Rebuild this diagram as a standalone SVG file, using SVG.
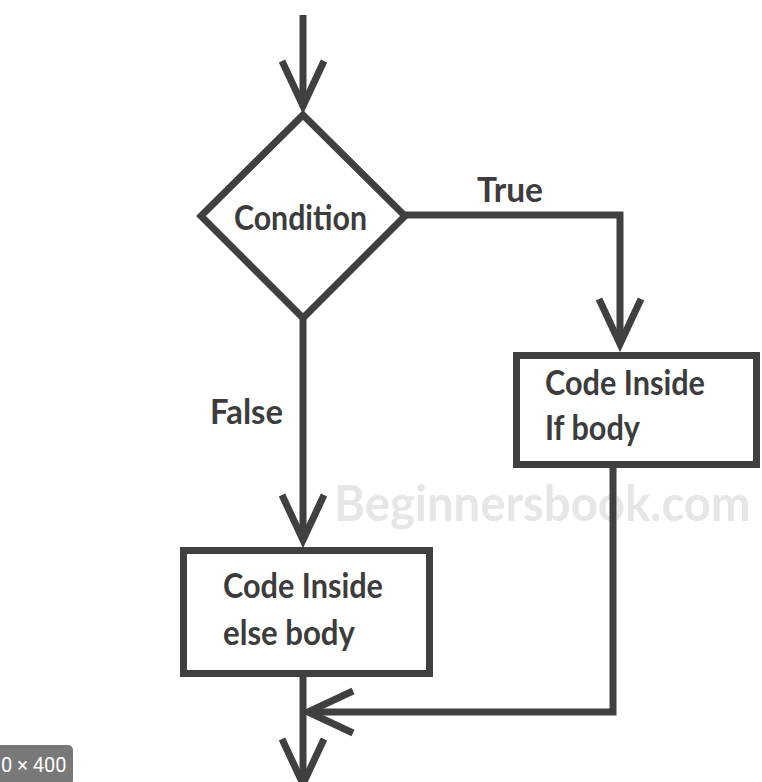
<svg xmlns="http://www.w3.org/2000/svg" width="762" height="782" viewBox="0 0 762 782">
  <style>
    .ln { fill: none; stroke: #404040; stroke-width: 7; stroke-linejoin: miter; }
    .shape { fill: #ffffff; stroke: #404040; stroke-width: 7; stroke-linejoin: miter; }
    .lbl { font-family: Lato, "Open Sans", sans-serif; font-weight: bold; font-size: 35px; fill: #3c3c3c; }
    .wm { font-family: Lato, "Open Sans", sans-serif; font-weight: bold; font-size: 50px; fill: #e6e6e6; }
    .badge { font-family: Roboto, "Liberation Sans", sans-serif; font-size: 20px; fill: #ffffff; }
  </style>
  <defs>
    <marker id="arr" markerUnits="userSpaceOnUse" markerWidth="70" markerHeight="70" viewBox="-55 -35 70 70" refX="0" refY="0" orient="auto">
      <path d="M-45,-21 L0,0 L-45,21" fill="none" stroke="#404040" stroke-width="7" stroke-linejoin="miter" stroke-miterlimit="10"/>
    </marker>
  </defs>
  <rect width="762" height="782" fill="#ffffff"/>

  <text class="wm" transform="translate(334,521) scale(0.85,1)" x="0" y="0" textLength="490" lengthAdjust="spacingAndGlyphs">Beginnersbook.com</text>

  <g id="connectors">
    <path class="ln" d="M303,15 V106" marker-end="url(#arr)"/>
    <path class="ln" d="M404,215 H620 V344" marker-end="url(#arr)"/>
    <path class="ln" d="M303,318 V540" marker-end="url(#arr)"/>
    <path class="ln" d="M613,464 V712 H308" marker-end="url(#arr)"/>
    <path class="ln" d="M303,677 V784" marker-end="url(#arr)"/>
    <text class="lbl" x="477" y="202" textLength="66" lengthAdjust="spacingAndGlyphs">True</text>
    <text class="lbl" x="210" y="424" textLength="73" lengthAdjust="spacingAndGlyphs">False</text>
  </g>

  <g id="condition">
    <polygon class="shape" points="303,115 405,216 303,318 201,216"/>
    <text class="lbl" x="234" y="230" textLength="133" lengthAdjust="spacingAndGlyphs">Condition</text>
  </g>

  <g id="if-body">
    <rect class="shape" x="516.5" y="355.5" width="240" height="109"/>
    <text class="lbl" x="545" y="395" textLength="160" lengthAdjust="spacingAndGlyphs">Code Inside</text>
    <text class="lbl" x="545" y="440" textLength="95" lengthAdjust="spacingAndGlyphs">If body</text>
  </g>

  <g id="else-body">
    <rect class="shape" x="183.5" y="550.5" width="246" height="123"/>
    <text class="lbl" x="223" y="598" textLength="160" lengthAdjust="spacingAndGlyphs">Code Inside</text>
    <text class="lbl" x="223" y="645" textLength="132" lengthAdjust="spacingAndGlyphs">else body</text>
  </g>

  <g id="size-badge">
    <rect x="-6" y="745" width="79" height="40" rx="5" fill="#787878"/>
    <text class="badge" x="1" y="772">0 × 400</text>
  </g>
</svg>
